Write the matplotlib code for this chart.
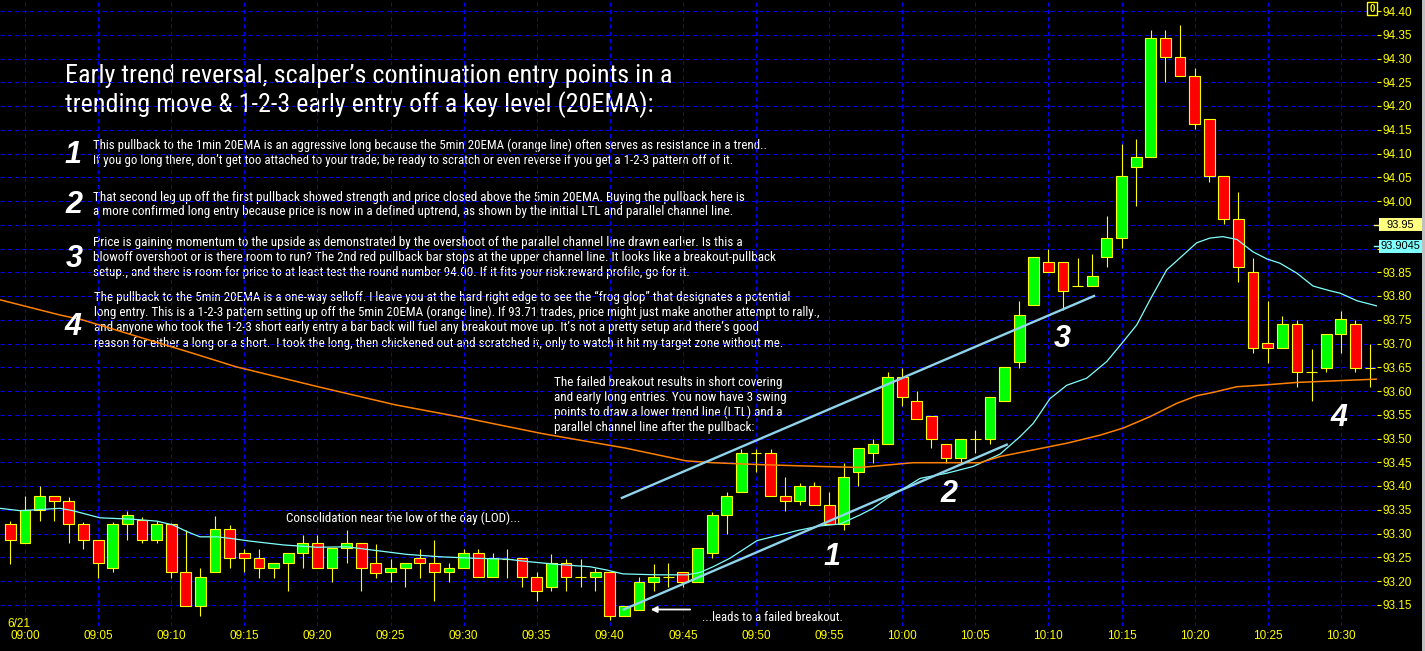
import matplotlib
matplotlib.use("Agg")
import matplotlib.pyplot as plt
import matplotlib.transforms as mtrans
from matplotlib import font_manager as fm
from matplotlib.patches import Rectangle

# ---------------- data ----------------
minutes = list(range(-1, 93))  # minute offset from 09:00
opens = [93.319, 93.279, 93.350, 93.378, 93.368, 93.319, 93.287, 93.228, 93.319, 93.329,
         93.287, 93.319, 93.218, 93.148, 93.218, 93.309, 93.258, 93.248, 93.228, 93.237,
         93.258, 93.279, 93.228, 93.269, 93.279, 93.237, 93.218, 93.228, 93.248, 93.237,
         93.218, 93.228, 93.258, 93.208, 93.246, 93.248, 93.208, 93.188, 93.237, 93.208,
         93.208, 93.218, 93.127, 93.138, 93.197, 93.208, 93.218, 93.197, 93.258, 93.339,
         93.388, 93.469, 93.469, 93.379, 93.369, 93.399, 93.359, 93.320, 93.429, 93.469,
         93.489, 93.629, 93.580, 93.548, 93.489, 93.458, 93.498, 93.498, 93.580, 93.661,
         93.781, 93.871, 93.871, 93.821, 93.821, 93.882, 93.922, 94.071, 94.092, 94.343,
         94.303, 94.263, 94.172, 94.052, 93.962, 93.850, 93.701, 93.690, 93.741, 93.640,
         93.649, 93.720, 93.741, 93.649]
highs = [93.326, 93.378, 93.399, 93.378, 93.376, 93.325, 93.287, 93.325, 93.347, 93.335,
         93.326, 93.322, 93.307, 93.227, 93.337, 93.318, 93.268, 93.267, 93.237, 93.258,
         93.297, 93.297, 93.269, 93.307, 93.279, 93.278, 93.246, 93.237, 93.267, 93.286,
         93.237, 93.268, 93.268, 93.258, 93.267, 93.248, 93.218, 93.257, 93.246, 93.246,
         93.228, 93.218, 93.148, 93.208, 93.235, 93.237, 93.218, 93.269, 93.346, 93.388,
         93.478, 93.478, 93.478, 93.418, 93.407, 93.408, 93.388, 93.448, 93.479, 93.498,
         93.639, 93.648, 93.599, 93.548, 93.489, 93.498, 93.518, 93.588, 93.650, 93.790,
         93.882, 93.899, 93.871, 93.880, 93.889, 93.969, 94.120, 94.131, 94.360, 94.360,
         94.371, 94.279, 94.172, 94.052, 94.018, 93.880, 93.790, 93.758, 93.750, 93.688,
         93.720, 93.769, 93.750, 93.699]
lows = [93.236, 93.279, 93.327, 93.327, 93.279, 93.268, 93.207, 93.218, 93.287, 93.279,
        93.279, 93.207, 93.148, 93.127, 93.218, 93.228, 93.218, 93.207, 93.207, 93.178,
        93.228, 93.228, 93.197, 93.237, 93.178, 93.207, 93.197, 93.188, 93.207, 93.157,
        93.197, 93.228, 93.208, 93.208, 93.207, 93.188, 93.157, 93.178, 93.178, 93.188,
        93.178, 93.117, 93.127, 93.138, 93.178, 93.188, 93.188, 93.197, 93.248, 93.298,
        93.388, 93.429, 93.379, 93.348, 93.359, 93.359, 93.320, 93.307, 93.399, 93.449,
        93.489, 93.569, 93.541, 93.479, 93.449, 93.449, 93.469, 93.489, 93.580, 93.649,
        93.781, 93.850, 93.771, 93.821, 93.821, 93.861, 93.901, 93.990, 94.092, 94.251,
        94.263, 94.151, 94.041, 93.951, 93.830, 93.680, 93.660, 93.690, 93.609, 93.580,
        93.640, 93.680, 93.640, 93.609]
closes = [93.287, 93.350, 93.379, 93.368, 93.319, 93.287, 93.237, 93.319, 93.338, 93.287,
          93.319, 93.218, 93.148, 93.208, 93.309, 93.248, 93.248, 93.228, 93.237, 93.258,
          93.279, 93.228, 93.269, 93.279, 93.228, 93.217, 93.228, 93.237, 93.237, 93.218,
          93.228, 93.258, 93.208, 93.248, 93.246, 93.208, 93.178, 93.237, 93.208, 93.208,
          93.218, 93.127, 93.148, 93.197, 93.208, 93.208, 93.197, 93.269, 93.339, 93.379,
          93.469, 93.469, 93.379, 93.369, 93.399, 93.359, 93.320, 93.418, 93.479, 93.489,
          93.629, 93.588, 93.541, 93.498, 93.458, 93.498, 93.498, 93.588, 93.650, 93.760,
          93.882, 93.850, 93.810, 93.821, 93.842, 93.922, 94.053, 94.092, 94.343, 94.303,
          94.263, 94.162, 94.052, 93.962, 93.861, 93.690, 93.690, 93.741, 93.640, 93.640,
          93.720, 93.751, 93.649, 93.649]

# 1min 20EMA (cyan)
ema1_t = [-1.71, -0.34, 2.39, 3.28, 5.13, 7.39, 9.03, 10.12, 11.08, 11.97, 13.13, 14.23, 15.39,
          17.65, 19.97, 22.02, 23.80, 26.13, 28.39, 30.64, 32.97, 34.34, 36.39, 38.65, 39.81,
          40.90, 43.23, 45.28, 46.17, 47.06, 48.22, 50.07, 51.64, 52.80, 54.38, 55.75, 57.11,
          58.00, 58.96, 60.33, 61.22, 63.06, 64.84, 66.69, 68.06, 68.97, 70.11, 71.25, 72.62,
          73.99, 75.12, 76.04, 76.95, 78.09, 79.21, 80.14, 81.05, 81.94, 82.90, 83.99, 84.95,
          85.84, 87.00, 88.10, 89.26, 89.95, 91.11, 92.48]
ema1_p = [93.353, 93.348, 93.353, 93.348, 93.333, 93.330, 93.326, 93.318, 93.304, 93.293, 93.293,
          93.289, 93.284, 93.276, 93.271, 93.272, 93.265, 93.256, 93.251, 93.248, 93.246, 93.241,
          93.235, 93.230, 93.223, 93.215, 93.213, 93.213, 93.218, 93.230, 93.248, 93.285, 93.297,
          93.306, 93.316, 93.320, 93.339, 93.353, 93.374, 93.399, 93.416, 93.427, 93.441, 93.467,
          93.504, 93.532, 93.584, 93.612, 93.627, 93.662, 93.704, 93.739, 93.792, 93.855, 93.886,
          93.912, 93.922, 93.925, 93.919, 93.893, 93.878, 93.869, 93.848, 93.821, 93.811, 93.806,
          93.790, 93.779]

# 5min 20EMA (orange)
ema5_t = [-1.71, 2.39, 3.90, 11.42, 14.43, 20.04, 25.31, 30.15, 35.43, 41.04, 45.21, 47.06, 50.27,
          54.58, 57.11, 60.74, 65.32, 66.69, 68.97, 71.25, 73.53, 75.12, 76.95, 78.78, 80.14, 81.26,
          82.88, 84.93, 86.98, 89.26, 92.45]
ema5_p = [93.792, 93.760, 93.750, 93.680, 93.651, 93.609, 93.571, 93.543, 93.510, 93.480, 93.453,
          93.449, 93.445, 93.441, 93.439, 93.449, 93.449, 93.462, 93.476, 93.490, 93.507, 93.522,
          93.546, 93.574, 93.590, 93.597, 93.609, 93.613, 93.618, 93.621, 93.625]

# drawn trend lines
upper_t = [40.83, 73.12]
upper_p = [93.375, 93.800]
lower_t = [40.95, 67.15]
lower_p = [93.140, 93.487]
arrow_t = [45.69, 42.61]
arrow_p = [93.140, 93.140]

time_ticks = [0, 5, 10, 15, 20, 25, 30, 35, 40, 45, 50, 55, 60, 65, 70, 75, 80, 85, 90]
time_labels = ["09:00", "09:05", "09:10", "09:15", "09:20", "09:25", "09:30", "09:35", "09:40",
               "09:45", "09:50", "09:55", "10:00", "10:05", "10:10", "10:15", "10:20", "10:25", "10:30"]
price_ticks = [93.15, 93.20, 93.25, 93.30, 93.35, 93.40, 93.45, 93.50, 93.55, 93.60, 93.65, 93.70,
               93.75, 93.80, 93.85, 93.90, 93.95, 94.00, 94.05, 94.10, 94.15, 94.20, 94.25, 94.30,
               94.35, 94.40]
price_labels = ["93.15", "93.20", "93.25", "93.30", "93.35", "93.40", "93.45", "93.50", "93.55",
                "93.60", "93.65", "93.70", "93.75", "93.80", "93.85", "", "", "94.00", "94.05",
                "94.10", "94.15", "94.20", "94.25", "94.30", "94.35", "94.40"]
marker_prices = [93.95, 93.9045]
marker_labels = ["93.95", "93.9045"]

title_lines = ["Early trend reversal, scalper\u2019s continuation entry points in a",
               "trending move & 1-2-3 early entry off a key level (20EMA):"]
note1 = ["This pullback to the 1min 20EMA is an aggressive long because the 5min 20EMA (orange line) often serves as resistance in a trend..",
         "If you go long there, don\u2019t get too attached to your trade; be ready to scratch or even reverse if you get a 1-2-3 pattern off of it."]
note2 = ["That second leg up off the first pullback showed strength and price closed above the 5min 20EMA. Buying the pullback here is",
         "a more confirmed long entry because price is now in a defined uptrend, as shown by the initial LTL and parallel channel line."]
note3 = ["Price is gaining momentum to the upside as demonstrated by the overshoot of the parallel channel line drawn earlier. Is this a",
         "blowoff overshoot or is there room to run? The 2nd red pullback bar stops at the upper channel line. It looks like a breakout-pullback",
         "setup., and there is room for price to at least test the round number 94.00. If it fits your risk:reward profile, go for it."]
note4 = ["The pullback to the 5min 20EMA is a one-way selloff. I leave you at the hard right edge to see the \u201cfrog glop\u201d that designates a potential",
         "long entry. This is a 1-2-3 pattern setting up off the 5min 20EMA (orange line). If 93.71 trades, price might just make another attempt to rally.,",
         "and anyone who took the 1-2-3 short early entry a bar back will fuel any breakout move up. It\u2019s not a pretty setup and there\u2019s good",
         "reason for either a long or a short.  I took the long, then chickened out and scratched it, only to watch it hit my target zone without me."]
fail_note = ["The failed breakout results in short covering",
             "and early long entries. You now have 3 swing",
             "points to draw a lower trend line (LTL) and a",
             "parallel channel line after the pullback:"]
consol_note = "Consolidation near the low of the day (LOD)..."
leads_note = "...leads to a failed breakout."

# ---------------- fonts ----------------
avail = {f.name for f in fm.fontManager.ttflist}
def pick(*names):
    for n in names:
        if n in avail:
            return n
    return "DejaVu Sans"
NARROW = pick("Liberation Sans Narrow", "Roboto Condensed", "Open Sans Condensed", "Liberation Sans")
DIGIT = pick("Liberation Sans", "DejaVu Sans")
AXF = pick("Liberation Sans", "DejaVu Sans")

# ---------------- figure ----------------
W, H = 1425, 651
fig = plt.figure(figsize=(W / 100, H / 100), dpi=100, facecolor="black")
AX_R, AX_B = 1377, 626
ax = fig.add_axes([0, (H - AX_B) / H, AX_R / W, AX_B / H])
ax.set_facecolor("black")
X0, PXM = 25.0, 14.62
ax.set_xlim(-X0 / PXM, (AX_R - X0) / PXM)
ax.set_ylim(94.40 - (AX_B - 11) / 475.0, 94.40 + 11 / 475.0)
for s in ax.spines.values():
    s.set_visible(False)

ax.set_axisbelow(True)
ax.set_xticks(time_ticks)
ax.set_xticklabels(time_labels, family=AXF)
ax.set_yticks(price_ticks)
ax.set_yticklabels(price_labels, family=AXF)
ax.yaxis.tick_right()
ax.tick_params(axis="x", length=0, pad=3, colors="#ffff00", labelsize=8.5)
ax.tick_params(axis="y", length=3, width=0.8, pad=1, colors="#ffff00", labelsize=8.5)
ax.grid(True, color="#0000ff", linestyle=(0, (4, 3)), linewidth=0.75)

# candles
bw = 0.74
for m, o, h, l, c in zip(minutes, opens, highs, lows, closes):
    ax.vlines(m, l, h, color="#ffff00", lw=0.8, zorder=2.5)
    if c == o:
        ax.hlines(o, m - bw / 2, m + bw / 2, color="#ffff00", lw=0.8, zorder=3)
    else:
        face = "#00ff00" if c > o else "#ff0000"
        ax.add_patch(Rectangle((m - bw / 2, min(o, c)), bw, abs(c - o), facecolor=face,
                               edgecolor="#ffff00", lw=0.8, zorder=3))

ax.plot(ema1_t, ema1_p, color="#80ffff", lw=0.9, zorder=4)
ax.plot(ema5_t, ema5_p, color="#ff8000", lw=1.1, zorder=4)
ax.plot(upper_t, upper_p, color="#90d4ec", lw=1.7, zorder=4.5)
ax.plot(lower_t, lower_p, color="#90d4ec", lw=1.7, zorder=4.5)
ax.annotate("", xy=(arrow_t[1], arrow_p[1]), xytext=(arrow_t[0], arrow_p[0]),
            arrowprops=dict(arrowstyle="-|>", color="white", lw=1.3, mutation_scale=9),
            zorder=5)

# pixel transform (x from left, y from top)
PX = mtrans.Affine2D().scale(1.0 / W, -1.0 / H).translate(0, 1) + fig.transFigure

def txt(x, y, s, size, family=NARROW, color="white", weight="normal", style="normal",
        ha="left", va="baseline", z=0.4):
    return ax.text(x, y, s, transform=PX, fontsize=size, family=family, color=color,
                   weight=weight, style=style, ha=ha, va=va, zorder=z, clip_on=False)

blocks = []
t_title = [txt(65, 83.3, title_lines[0], 17), txt(65, 112.3, title_lines[1], 17)]
blocks.append((t_title, 0, 607))
t1 = [txt(93, 149.3 + 15 * i, s, 9.5) for i, s in enumerate(note1)]
blocks.append((t1, 0, 675))
t2 = [txt(93, 200.7 + 14.5 * i, s, 9.5) for i, s in enumerate(note2)]
blocks.append((t2, 0, 651))
t3 = [txt(93, 246 + 15 * i, s, 9.5) for i, s in enumerate(note3)]
blocks.append((t3, 1, 684))
t4 = [txt(94, 300.7 + 15.3 * i, s, 9.5) for i, s in enumerate(note4)]
blocks.append((t4, 0, 696))
tf = [txt(554, 386 + 14.9 * i, s, 9.5) for i, s in enumerate(fail_note)]
blocks.append((tf, 0, 228))
tc = [txt(286, 521.7, consol_note, 9.5)]
blocks.append((tc, 0, 234))
tl = [txt(702, 620.7, leads_note, 9.5, z=5)]
blocks.append((tl, 0, 140))

# big step numbers
for (x, y, s) in [(73, 163.3, "1"), (74, 213.3, "2"), (74, 267, "3"), (73, 335, "4"),
                  (832, 565, "1"), (949, 501.7, "2"), (1062, 347, "3"), (1339, 426, "4")]:
    txt(x, y, s, 22, family=DIGIT, weight="bold", style="italic", ha="center", z=5)

txt(7, 627, "6/21", 8.5, family=AXF, color="#ffff00", z=5)

# level markers on the right price scale
yb = mtrans.blended_transform_factory(fig.transFigure, ax.transData)
mfaces = ["#ffff80", "#80ffff"]
box_h = 12.5 / 475.0
for p, lab, fc in zip(marker_prices, marker_labels, mfaces):
    fig.add_artist(Rectangle((1379 / W, p - box_h / 2), 43 / W, box_h, transform=yb,
                             facecolor=fc, edgecolor="none", zorder=10))
    fig.add_artist(plt.Line2D([1374 / W, 1379 / W], [p, p], transform=yb, color=fc, lw=1, zorder=10))
    fig.text(1400.5 / W, p, lab, transform=yb, ha="center", va="center", fontsize=8,
             family=AXF, color="black", zorder=11)

# small "0" box top right
fig.add_artist(Rectangle((1367 / W, 1 - 15 / H), 10 / W, 13 / H, transform=fig.transFigure,
                         facecolor="black", edgecolor="#ffff00", lw=1, zorder=10))
fig.text(1372 / W, 1 - 8.5 / H, "0", ha="center", va="center", fontsize=7, weight="bold",
         family=AXF, color="#ffff00", zorder=11)
# grey right edge
fig.add_artist(Rectangle((1422 / W, 0), 3 / W, 1, transform=fig.transFigure,
                         facecolor="#c0c0c0", edgecolor="none", zorder=10))

# fit text blocks to measured widths
fig.canvas.draw()
r = fig.canvas.get_renderer()
for items, idx, target in blocks:
    w = items[idx].get_window_extent(r).width
    size = items[0].get_fontsize() * target / w
    for t in items:
        t.set_fontsize(size)

fig.savefig("out.png", dpi=100, facecolor="black")
